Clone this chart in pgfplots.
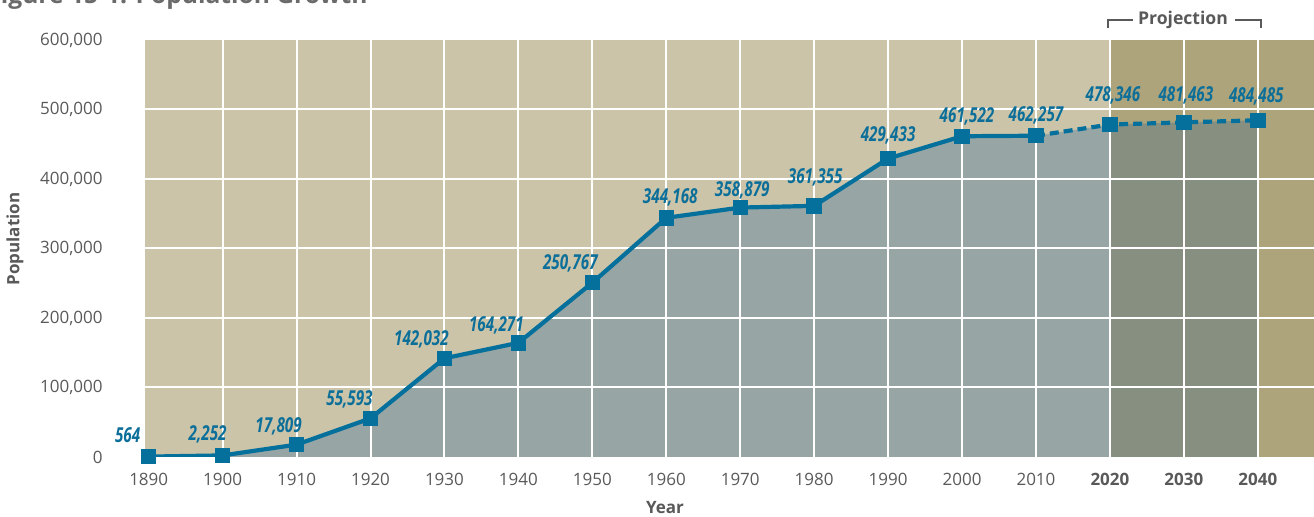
\documentclass[border=0pt]{standalone}
\usepackage{pgfplots}
\pgfplotsset{compat=1.18}
\usepackage{pgfplotstable}
\usepackage{fontspec}
\setmainfont{Open Sans}
\newfontfamily\lblfont[FakeStretch=0.74]{Open Sans}
\definecolor{tanl}{HTML}{CBC4A9}
\definecolor{tanp}{HTML}{ADA47C}
\definecolor{areag}{HTML}{97A5A4}
\definecolor{areap}{HTML}{868F80}
\definecolor{lineblue}{HTML}{05709C}
\definecolor{lblblue}{HTML}{0C6F9A}
\definecolor{txtgray}{HTML}{595959}

\pgfplotstableread{
year pop dx dy lab
1890 564 -10.5 7 564
1900 2252 -7.5 7.5 2,252
1910 17809 -9 6 17,809
1920 55593 -10.5 6.5 55,593
1930 142032 -11.5 6.5 142,032
1940 164271 -11 5.5 164,271
1950 250767 -11 6.5 250,767
1960 344168 2 7 344,168
1970 358879 1 5.5 358,879
1980 361355 0.5 11 361,355
1990 429433 0 8.5 429,433
2000 461522 2.5 7 461,522
2010 462257 0 7 462,257
2020 478346 1.5 11.5 478,346
2030 481463 1 10.5 481,463
2040 484485 -0.75 9 484,485
}\labtable

\begin{document}
\begin{tikzpicture}
\begin{axis}[
  scale only axis, width=584.5pt, height=208.5pt,
  xmin=1889.5, xmax=2047.6, ymin=0, ymax=600000,
  scaled y ticks=false,
  axis background/.style={fill=tanl},
  axis line style={draw=none}, major tick length=0pt,
  xtick={1890,1900,...,2040},
  xticklabels={1890,1900,1910,1920,1930,1940,1950,1960,1970,1980,1990,2000,2010,\textbf{2020},\textbf{2030},\textbf{2040}},
  ytick={0,100000,200000,300000,400000,500000,600000},
  yticklabels={0,{100,000},{200,000},{300,000},{400,000},{500,000},{600,000}},
  tick label style={font=\fontsize{8.5}{10}\selectfont, text=txtgray},
  yticklabel style={anchor=east, inner sep=0pt, xshift=-21pt},
  xticklabel style={anchor=north, inner sep=0pt, yshift=-8pt},
  clip=true,
]
% projection band
\addplot[draw=none, fill=tanp] coordinates {(2020,0) (2020,600000) (2047.6,600000) (2047.6,0)} -- cycle;
% areas
\addplot[draw=none, fill=areag] coordinates {(1890,564) (1900,2252) (1910,17809) (1920,55593) (1930,142032) (1940,164271) (1950,250767) (1960,344168) (1970,358879) (1980,361355) (1990,429433) (2000,461522) (2010,462257) (2020,478346)} \closedcycle;
\addplot[draw=none, fill=areap] coordinates {(2020,478346) (2030,481463) (2040,484485)} \closedcycle;
% grid
\pgfplotsinvokeforeach{1900,1910,1920,1930,1940,1950,1960,1970,1980,1990,2000,2010,2020,2030,2040}{\draw[white, line width=1pt] (axis cs:#1,0) -- (axis cs:#1,600000);}
\pgfplotsinvokeforeach{100000,200000,300000,400000,500000}{\draw[white, line width=1pt] (axis cs:1880,#1) -- (axis cs:2050,#1);}
% line
\addplot[lineblue, line width=2.1pt, mark=square*, mark size=2.8pt, mark options={solid}] coordinates {(1890,564) (1900,2252) (1910,17809) (1920,55593) (1930,142032) (1940,164271) (1950,250767) (1960,344168) (1970,358879) (1980,361355) (1990,429433) (2000,461522) (2010,462257)};
\addplot[lineblue, line width=2.1pt, dash pattern=on 4.5pt off 2.5pt, mark=square*, mark size=2.8pt, mark options={solid}] coordinates {(2010,462257) (2020,478346) (2030,481463) (2040,484485)};
% labels
\addplot[draw=none, mark=none, nodes near coords, point meta=explicit symbolic,
  visualization depends on={\thisrow{dx}\as\dx},
  visualization depends on={\thisrow{dy}\as\dy},
  every node near coord/.append style={anchor=base, inner sep=0pt, xshift=\dx pt, yshift=\dy pt,
    font=\lblfont\bfseries\itshape\fontsize{10.3}{12}\selectfont, text=lblblue}]
  table[x=year, y=pop, meta=lab]{\labtable};
\end{axis}
\node[rotate=90, font=\bfseries\fontsize{8.5}{10}\selectfont, text=txtgray] at (-65pt,109pt) {Population};
\node[font=\bfseries\fontsize{8.5}{10}\selectfont, text=txtgray] at (260pt,-25.5pt) {Year};
\node[font=\bfseries\fontsize{8.8}{10}\selectfont, text=txtgray] at (519pt,218.5pt) {Projection};
\draw[txtgray, line width=1pt] (481.5pt,214.5pt) -- (481.5pt,218.5pt) -- (494pt,218.5pt);
\draw[txtgray, line width=1pt] (545pt,218.5pt) -- (558pt,218.5pt) -- (558pt,214.5pt);
\node[overlay, anchor=base west, inner sep=0pt, font=\bfseries\fontsize{12.3}{14}\selectfont, text=txtgray!90] at (-79pt,226.5pt) {Figure 15-1: Population Growth};
\pgfresetboundingbox
\useasboundingbox (-72.5pt,-30pt) rectangle (584.5pt,228.5pt);
\end{tikzpicture}
\end{document}
